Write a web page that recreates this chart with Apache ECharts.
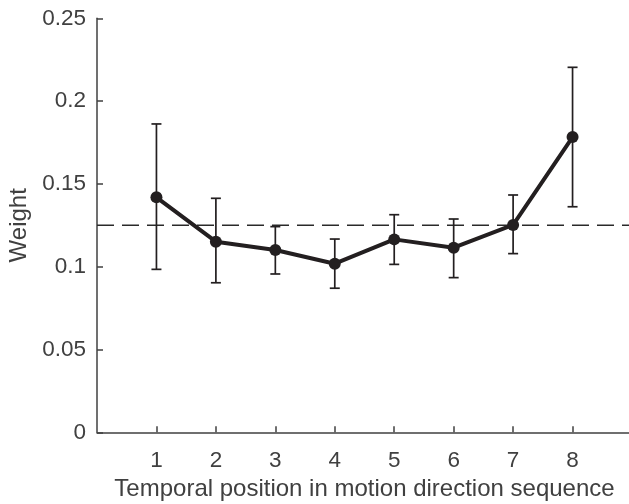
<!DOCTYPE html>
<html><head><meta charset="utf-8">
<script src="https://cdn.jsdelivr.net/npm/echarts@6/dist/echarts.min.js"></script>
<style>html,body{margin:0;padding:0;background:#fff}#c{width:629px;height:504px}</style>
</head><body><div id="c"></div>
<script>
const positions = [1, 2, 3, 4, 5, 6, 7, 8];
const weights = [0.1419, 0.1151, 0.1101, 0.1018, 0.1165, 0.1115, 0.1252, 0.1783];
const upper = [0.1862, 0.1413, 0.1242, 0.1167, 0.1314, 0.1288, 0.1433, 0.2204];
const lower = [0.0984, 0.0903, 0.0956, 0.0870, 0.1014, 0.0934, 0.1079, 0.1362];
const chanceLevel = 0.125;
const yTicks = [0, 0.05, 0.1, 0.15, 0.2, 0.25];

const chart = echarts.init(document.getElementById('c'), null, {renderer: 'canvas'});
const ink = '#231f20';
const axisColor = '#404040';
const font = 'Liberation Sans, Arial, Helvetica, sans-serif';

chart.setOption({
  animation: false,
  grid: {left: 97, right: -3, top: 18.3, bottom: 71.7, containLabel: false, outerBoundsMode: 'none'},
  xAxis: {
    type: 'value', min: 0, max: 9, interval: 1,
    name: 'Temporal position in motion direction sequence',
    nameLocation: 'middle', nameGap: 44,
    nameTextStyle: {color: axisColor, fontSize: 24, fontFamily: font},
    axisLine: {show: true, lineStyle: {color: axisColor, width: 1.5}},
    axisTick: {show: true, inside: true, length: 6, customValues: positions, lineStyle: {color: axisColor, width: 1.5}},
    axisLabel: {color: axisColor, fontSize: 22.5, fontFamily: font, margin: 17,
      customValues: positions, formatter: v => String(v)},
    splitLine: {show: false}
  },
  yAxis: {
    type: 'value', min: 0, max: 0.25, interval: 0.05,
    name: 'Weight', nameLocation: 'middle', nameGap: 65,
    nameTextStyle: {color: axisColor, fontSize: 24, fontFamily: font},
    axisLine: {show: true, lineStyle: {color: axisColor, width: 1.5}},
    axisTick: {show: true, inside: true, length: 6, lineStyle: {color: axisColor, width: 1.5}},
    axisLabel: {color: axisColor, fontSize: 22.5, fontFamily: font, margin: 11, padding: [5, 0, 0, 0],
      formatter: v => { const t = yTicks.find(y => Math.abs(y - v) < 1e-9); return t === undefined ? '' : String(t); }},
    splitLine: {show: false}
  },
  series: [
    {
      type: 'line', data: [[0, chanceLevel], [9, chanceLevel]],
      symbol: 'none', silent: true,
      lineStyle: {color: '#2a2a2a', width: 1.6, type: [17, 8]},
      z: 1
    },
    {
      type: 'custom',
      data: positions.map((p, i) => [p, lower[i], upper[i]]),
      renderItem: (params, api) => {
        const x = api.value(0);
        const lo = api.coord([x, api.value(1)]);
        const hi = api.coord([x, api.value(2)]);
        const hw = 5;
        const st = {stroke: ink, lineWidth: 1.7};
        return {type: 'group', children: [
          {type: 'line', shape: {x1: lo[0], y1: lo[1], x2: hi[0], y2: hi[1]}, style: st},
          {type: 'line', shape: {x1: lo[0] - hw, y1: lo[1], x2: lo[0] + hw, y2: lo[1]}, style: st},
          {type: 'line', shape: {x1: hi[0] - hw, y1: hi[1], x2: hi[0] + hw, y2: hi[1]}, style: st}
        ]};
      },
      z: 2
    },
    {
      type: 'line', data: positions.map((p, i) => [p, weights[i]]),
      symbol: 'circle', symbolSize: 12,
      itemStyle: {color: ink},
      lineStyle: {color: ink, width: 4},
      z: 3
    }
  ]
});
</script>
</body></html>
